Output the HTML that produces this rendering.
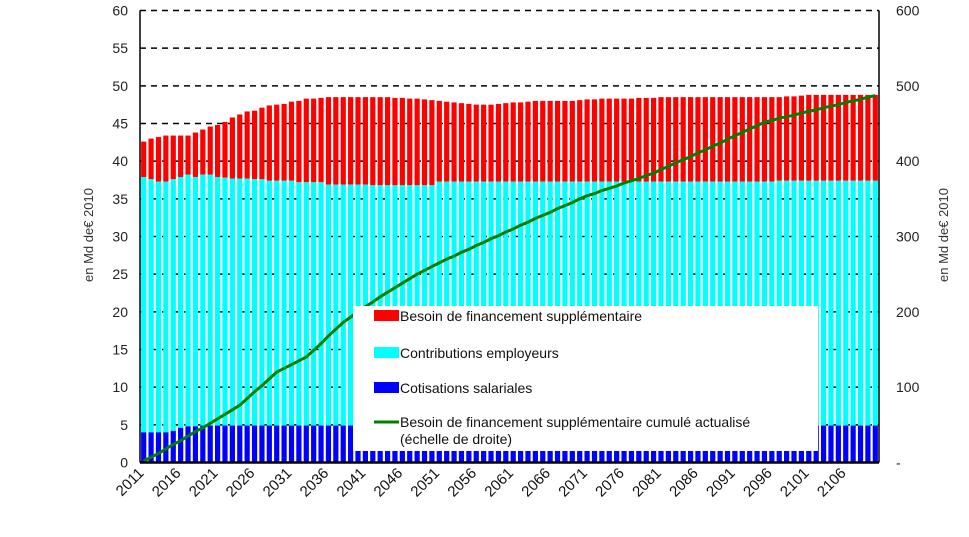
<!DOCTYPE html>
<html><head><meta charset="utf-8"><style>
html,body{margin:0;padding:0;background:#fff;}
svg{display:block;font-family:"Liberation Sans",Arial,sans-serif;}
</style></head><body>
<svg id="chart" width="969" height="537" viewBox="0 0 969 537"></svg>
<script>
const years = [];
for (let y = 2011; y <= 2110; y++) years.push(y);
const blueVals = [4.0,4.0,4.0,4.0,4.2,4.6,4.8,4.8,4.9,4.9,4.9,4.9,4.9,4.9,4.9,4.9,4.9,4.9,4.9,4.9,4.9,4.9,4.9,4.9,4.9,4.9,4.9,4.9,4.9,4.9,4.9,4.9,4.9,4.9,4.9,4.9,4.9,4.9,4.9,4.9,4.9,4.9,4.9,4.9,4.9,4.9,4.9,4.9,4.9,4.9,4.9,4.9,4.9,4.9,4.9,4.9,4.9,4.9,4.9,4.9,4.9,4.9,4.9,4.9,4.9,4.9,4.9,4.9,4.9,4.9,4.9,4.9,4.9,4.9,4.9,4.9,4.9,4.9,4.9,4.9,4.9,4.9,4.9,4.9,4.9,4.9,4.9,4.9,4.9,4.9,4.9,4.9,4.9,4.9,4.9,4.9,4.9,4.9,4.9,4.9];
const cyanTop = [37.9,37.6,37.3,37.3,37.6,37.9,38.2,37.9,38.2,38.2,37.9,37.8,37.7,37.7,37.7,37.6,37.6,37.4,37.4,37.4,37.4,37.2,37.2,37.2,37.2,36.9,36.9,36.9,36.9,36.9,36.9,36.8,36.8,36.8,36.8,36.8,36.8,36.8,36.8,36.8,37.3,37.3,37.3,37.3,37.3,37.3,37.3,37.3,37.3,37.3,37.3,37.3,37.3,37.3,37.3,37.3,37.3,37.3,37.3,37.3,37.3,37.3,37.3,37.3,37.3,37.3,37.3,37.3,37.3,37.3,37.3,37.3,37.3,37.3,37.3,37.3,37.3,37.3,37.3,37.3,37.3,37.3,37.3,37.3,37.3,37.3,37.4,37.4,37.4,37.4,37.4,37.4,37.4,37.4,37.4,37.4,37.4,37.4,37.4,37.4];
const totalTop = [42.6,43.0,43.2,43.4,43.4,43.4,43.4,43.8,44.2,44.6,44.8,45.2,45.8,46.2,46.6,46.7,47.1,47.4,47.5,47.6,47.9,48.0,48.3,48.3,48.4,48.5,48.5,48.5,48.5,48.5,48.5,48.5,48.5,48.5,48.4,48.4,48.3,48.3,48.2,48.1,48.0,47.9,47.8,47.7,47.6,47.5,47.5,47.5,47.6,47.7,47.8,47.8,47.9,48.0,48.0,48.0,48.0,48.0,48.0,48.1,48.2,48.2,48.3,48.3,48.3,48.3,48.3,48.4,48.4,48.4,48.5,48.5,48.5,48.5,48.5,48.5,48.5,48.5,48.5,48.5,48.5,48.5,48.5,48.5,48.5,48.5,48.5,48.6,48.6,48.7,48.8,48.8,48.8,48.8,48.8,48.8,48.8,48.8,48.8,48.8];
const cumulVals = [2,7,12,18,24,29,35,41,46,52,58,64,70,76,85,94,102,111,120,125,130,135,140,149,158,168,177,186,193,200,207,213,220,226,232,238,244,250,255,260,265,270,274,279,283,288,292,297,301,306,310,315,319,324,328,332,337,341,345,350,354,357,361,364,367,371,374,377,381,384,389,393,398,402,406,411,415,420,424,429,434,438,443,447,452,454,457,459,461,464,466,468,471,473,475,478,480,482,485,487];
const leftTicks = [0,5,10,15,20,25,30,35,40,45,50,55,60];
const rightTicks = ["-","100","200","300","400","500","600"];

const svg = document.getElementById('chart');
const NS = 'http://www.w3.org/2000/svg';
const X0 = 140, X1 = 879, YB = 462.5, YT = 10.5;
const step = (X1 - X0) / years.length;
function xC(i){ return X0 + step * (i + 0.5); }
function yL(v){ return YB - (YB - YT) * v / 60; }
function yR(v){ return YB - (YB - YT) * v / 600; }
function mk(tag, attrs, parent){
  const e = document.createElementNS(NS, tag);
  for (const k in attrs) e.setAttribute(k, attrs[k]);
  (parent || svg).appendChild(e);
  return e;
}
const grid = mk('g', {});


leftTicks.forEach(v => {
  if (v === 0) return;
  const l = mk('line', {x1:X0, x2:X1, y1:yL(v), y2:yL(v), stroke:'#000', 'stroke-width':1.5, 'stroke-dasharray':'6,5'}, grid);
  
  
});
const bars = mk('g', {});


const bw = 5.2;
years.forEach((yr, i) => {
  const x = xC(i) - bw / 2;
  const r = mk('rect', {x:x, y:yL(totalTop[i]), width:bw, height:yL(cyanTop[i]) - yL(totalTop[i]), fill:'#ff0000'}, bars);
  
  
  const c = mk('rect', {x:x, y:yL(cyanTop[i]), width:bw, height:yL(blueVals[i]) - yL(cyanTop[i]), fill:'#00ffff'}, bars);
  
  
  const b = mk('rect', {x:x, y:yL(blueVals[i]), width:bw, height:YB - yL(blueVals[i]), fill:'#0000ff'}, bars);
  
  
});
const pts = cumulVals.map((v, i) => xC(i).toFixed(1) + ',' + yR(v).toFixed(1)).join(' ');
const pl = mk('polyline', {points:pts, fill:'none', stroke:'#008000', 'stroke-width':3});


const ax = mk('g', {});


mk('line', {x1:X0, x2:X0, y1:YT, y2:YB, stroke:'#000', 'stroke-width':1.5}, ax);
mk('line', {x1:X1, x2:X1, y1:YT, y2:YB, stroke:'#000', 'stroke-width':1.5}, ax);
mk('line', {x1:X0, x2:X1, y1:YB, y2:YB, stroke:'#000', 'stroke-width':2.5}, ax);
leftTicks.forEach(v => {
  const t = mk('text', {x:128, y:yL(v) + 5, 'text-anchor':'end', 'font-size':14, fill:'#222'}, ax);
  t.textContent = v;
  
  
});
rightTicks.forEach((s, k) => {
  const t = mk('text', {x:896, y:yR(k * 100) + 5, 'text-anchor':'start', 'font-size':14, fill:'#222'}, ax);
  t.textContent = s;
  
  
});
years.forEach((yr, i) => {
  if ((yr - 2011) % 5 !== 0) return;
  const x = xC(i) + 1, y = 474;
  const t = mk('text', {x:x, y:y, 'text-anchor':'end', 'font-size':15, fill:'#111', transform:'rotate(-45 ' + x + ' ' + y + ')'}, ax);
  t.textContent = yr;
  
  
});
const lt = mk('text', {x:0, y:0, 'text-anchor':'middle', 'font-size':13, fill:'#333', transform:'translate(93,235) rotate(-90)'});
lt.textContent = 'en Md de€ 2010';


const rt = mk('text', {x:0, y:0, 'text-anchor':'middle', 'font-size':13, fill:'#333', transform:'translate(948,235) rotate(-90)'});
rt.textContent = 'en Md de€ 2010';


const lg = mk('g', {});


mk('rect', {x:353, y:306, width:465, height:145, fill:'#fff'}, lg);
const items = [['#ff0000','Besoin de financement supplémentaire',316,'legend-entry-besoin'],['#00ffff','Contributions employeurs',353,'legend-entry-contributions'],['#0000ff','Cotisations salariales',388,'legend-entry-cotisations']];
items.forEach(it => {
  const g = mk('g', {}, lg);
  
  
  mk('rect', {x:374, y:it[2] - 6, width:25, height:11, fill:it[0]}, g);
  const t = mk('text', {x:400, y:it[2] + 5, 'font-size':14, fill:'#111'}, g);
  t.textContent = it[1];
});
const g4 = mk('g', {}, lg);


mk('line', {x1:374, x2:399, y1:422, y2:422, stroke:'#008000', 'stroke-width':3}, g4);
const t4 = mk('text', {x:400, y:427, 'font-size':14, fill:'#111'}, g4);
t4.textContent = 'Besoin de financement supplémentaire cumulé actualisé';
const t5 = mk('text', {x:400, y:444, 'font-size':14, fill:'#111'}, g4);
t5.textContent = '(échelle de droite)';
</script>
</body></html>
